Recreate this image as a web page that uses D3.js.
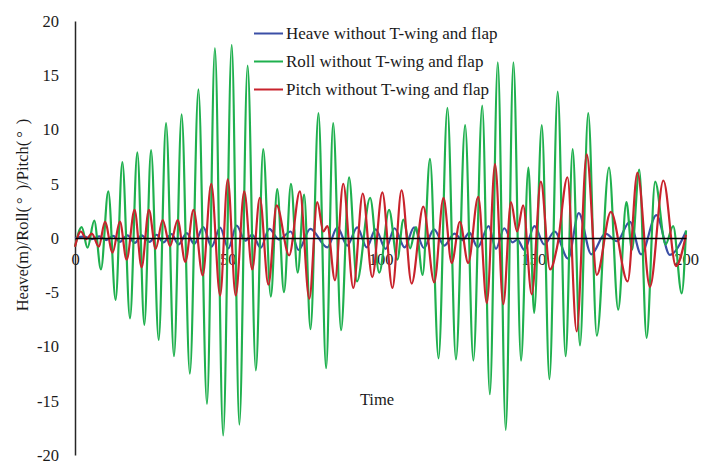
<!DOCTYPE html>
<html lang="en">
<head>
<meta charset="UTF-8">
<title>Heave / Roll / Pitch without T-wing and flap</title>
<style>
    body {
        margin: 0;
        padding: 0;
        background-color: #fff;
    }
    svg text {
        font-family: "Liberation Serif", "Times New Roman", serif;
        fill: #1a1a1a;
    }
</style>
</head>
<body>
<div id="chart"></div>

<script src="https://d3js.org/d3.v7.min.js"></script>
<script>
    // tick labels
    const xTicks = [0, 50, 100, 150, 200];
    const yTicks = [-20, -15, -10, -5, 0, 5, 10, 15, 20];

    const seriesNames = [
        "Heave without T-wing and flap",
        "Roll without T-wing and flap",
        "Pitch without T-wing and flap"
    ];

    // [time, value] at the turning points
    const heave = [
        [0, 0], [3, 0.12], [5.5, -0.1], [8, 0.15], [10.2, -0.2], [12.5, 0.2], [14.7, -0.35],
        [17.2, 0.25], [19.6, -0.45], [21.8, 0.25], [24.4, -0.35], [26.7, 0.3], [28.9, -0.4],
        [31.6, 0.35], [33.9, -0.6], [36.6, 0.45], [39.0, -0.55], [42.0, 1.0], [44.7, -0.8],
        [47.5, 0.95], [50.2, -0.95], [52.9, 1.15], [55.7, -0.25], [58.0, 0.3], [60.8, -0.9],
        [63.6, 0.85], [66.8, -0.15], [70.6, 0.6], [73.2, -1.1], [77.0, 0.85], [82.6, -0.86],
        [85.9, 0.98], [89.1, -0.7], [92.4, 0.98], [95.5, -0.86], [98.4, 0.8], [101.7, -1.0],
        [104.6, 0.9], [107.9, -0.86], [111.0, 0.98], [114.2, -0.92], [117.5, 0.8], [120.9, -0.7],
        [124.2, 0.4], [126.9, -0.2], [129.1, 0.5], [131.8, -0.86], [135.4, 1.1], [137.8, -1.0],
        [140.5, 0.9], [143.2, -0.4], [144.8, -0.15], [147.1, -1.1], [150.4, 1.1], [153.6, -0.6],
        [157.0, 0.6], [161.4, -1.9], [164.9, 2.3], [169.0, -1.5], [173.6, 0.4], [177.4, -0.3],
        [181.6, 1.5], [185.3, -1.5], [190.3, 2.1], [194.7, -1.55], [200, 0.6]
    ];

    const roll = [
        [0, -0.8], [2.2, 1.0], [4.1, -0.9], [6.3, 1.6], [8.5, -2.9], [10.9, 4.3], [13.3, -5.7],
        [15.5, 7.0], [18.0, -7.4], [20.4, 7.9], [22.7, -8.0], [24.9, 8.1], [27.4, -9.4],
        [29.8, 10.6], [32.4, -10.9], [34.9, 11.4], [37.6, -12.5], [40.4, 13.7], [43.2, -15.3],
        [45.8, 17.5], [48.5, -18.2], [51.3, 17.8], [53.8, -17.2], [56.5, 15.9], [59.2, -12.2],
        [61.6, 8.2], [64.1, -5.4], [66.2, 4.5], [68.4, -5.0], [70.7, 5.0], [72.9, -3.2],
        [75.0, 4.0], [77.1, -8.4], [79.7, 11.5], [82.2, -12.0], [84.5, 10.6], [87.1, -8.5],
        [89.7, 5.6], [92.3, -4.0], [96.6, 3.7], [99.6, -3.2], [102.8, 2.6], [105.5, -2.0],
        [107.5, 1.7], [109.7, -0.95], [111.6, 1.0], [113.8, -3.4], [116.2, 7.3], [119.0, -11.1],
        [121.9, 12.0], [124.7, -11.2], [127.7, 10.4], [130.4, -11.3], [133.3, 12.2],
        [135.8, -14.4], [138.4, 16.2], [141.0, -17.7], [143.5, 16.2], [146.0, -11.3],
        [148.4, 6.5], [150.3, -6.9], [152.8, 10.4], [155.3, -13.0], [158.0, 13.5],
        [160.6, -10.9], [162.9, 8.2], [165.3, -9.9], [168.0, 11.5], [170.8, -9.0],
        [174.8, 6.5], [177.8, -6.6], [180.5, 3.3], [182.3, -1.1], [184.7, 6.3], [187.1, -9.2],
        [189.9, 5.2], [193.3, -0.6], [195.8, 1.1], [198.6, -5.1], [200, 0.7]
    ];

    const pitch = [
        [0, -0.8], [1.9, 0.6], [3.7, -0.1], [5.5, 0.4], [7.8, -0.8], [9.8, 1.5], [12.3, -1.35],
        [14.7, 1.5], [16.9, -2.0], [19.5, 2.6], [21.8, -2.7], [24.2, 2.6], [26.4, -1.0],
        [28.7, 1.66], [31.1, -0.75], [33.6, 1.65], [36.1, -2.2], [38.8, 2.6], [41.8, -3.45],
        [44.6, 5.0], [47.5, -5.3], [50.0, 5.4], [52.6, -5.3], [55.4, 4.3], [58.0, -2.9],
        [60.5, 3.7], [63.3, -4.3], [66.0, 3.0], [70.1, -1.6], [73.6, 4.3], [76.7, -5.6],
        [79.3, 3.3], [81.3, 0.6], [82.6, 1.1], [85.1, -3.9], [87.8, 5.0], [91.1, -4.6],
        [94.2, 4.1], [97.3, -3.6], [100.6, 4.2], [103.9, -4.6], [106.9, 4.4], [110.2, -4.2],
        [114.0, 2.9], [117.6, -4.1], [120.6, 3.7], [123.3, -2.3], [126.0, 1.5], [128.7, -2.3],
        [132.0, 3.8], [134.8, -6.0], [137.5, 6.8], [140.2, -6.1], [142.7, 3.3], [144.7, 0.6],
        [146.7, 3.0], [149.5, -5.2], [152.5, 5.2], [155.5, -2.9], [157.9, -0.7], [161.2, 5.6],
        [164.2, -8.6], [167.5, 7.7], [170.8, -3.4], [175.4, 2.4], [180.9, -4.0], [184.1, 6.0],
        [188.2, -4.5], [192.6, 5.3], [196.7, -2.6], [200, 0.3]
    ];

    const colors = ["#3b4fa6", "#1fb04e", "#c8232c"];

    const svgWidth = 710;
    const svgHeight = 461;

    const svg = d3.select("#chart")
        .append("svg")
        .attr("width", svgWidth)
        .attr("height", svgHeight);

    const x = d3.scaleLinear()
        .domain([0, 200])
        .range([75, 686]);

    const y = d3.scaleLinear()
        .domain([-20, 20])
        .range([455, 21]);

    // plain hyphen for negatives, like the original
    const fmt = d => String(d);

    // y axis on the left edge of the plot
    const yAxis = svg.append("g")
        .attr("transform", "translate(" + x(0) + ",0)")
        .call(d3.axisLeft(y).tickValues(yTicks).tickFormat(fmt)
            .tickSize(0).tickSizeOuter(0).tickPadding(16));
    yAxis.select(".domain").attr("stroke", "#262626").attr("stroke-width", 1.5);
    yAxis.selectAll("text").style("font-size", "16.5px");

    // x axis sits on the zero line; labels go in first so the curves cover them
    const xAxisLabels = svg.append("g")
        .attr("transform", "translate(0," + y(0) + ")")
        .call(d3.axisBottom(x).tickValues(xTicks).tickFormat(fmt)
            .tickSize(0).tickSizeOuter(0).tickPadding(15));
    xAxisLabels.select(".domain").remove();
    xAxisLabels.selectAll("text").style("font-size", "16.5px");

    const line = d3.line()
        .x(d => x(d[0]))
        .y(d => y(d[1]))
        .curve(d3.curveMonotoneX);

    [heave, roll, pitch].forEach((data, i) => {
        svg.append("path")
            .datum(data)
            .attr("fill", "none")
            .attr("stroke", colors[i])
            .attr("stroke-width", 2.2)
            .attr("stroke-linejoin", "round")
            .attr("d", line);
    });

    // zero line drawn over the curves
    svg.append("g")
        .attr("transform", "translate(0," + y(0) + ")")
        .call(d3.axisBottom(x).tickValues([]).tickSize(0).tickSizeOuter(0))
        .select(".domain")
        .attr("stroke", "#000")
        .attr("stroke-width", 1.5);

    // legend
    const legend = svg.append("g");
    seriesNames.forEach((name, i) => {
        const ly = 33.5 + i * 28;
        legend.append("line")
            .attr("x1", 254).attr("x2", 283)
            .attr("y1", ly).attr("y2", ly)
            .attr("stroke", colors[i])
            .attr("stroke-width", 2);
        legend.append("text")
            .attr("x", 286)
            .attr("y", ly + 5.5)
            .style("font-size", "17px")
            .text(name);
    });

    // axis titles
    svg.append("text")
        .attr("x", 377)
        .attr("y", 405)
        .attr("text-anchor", "middle")
        .style("font-size", "16.5px")
        .text("Time");

    const yTitle = svg.append("text")
        .attr("transform", "translate(28,215) rotate(-90)")
        .attr("text-anchor", "middle")
        .style("font-size", "16.5px");
    yTitle.append("tspan").text("Heave(m)/Roll(");
    yTitle.append("tspan").attr("dx", 3).text("°");
    yTitle.append("tspan").attr("dx", 7).text(")/Pitch(");
    yTitle.append("tspan").attr("dx", 3).text("°");
    yTitle.append("tspan").attr("dx", 7).text(")");
</script>
</body>
</html>
